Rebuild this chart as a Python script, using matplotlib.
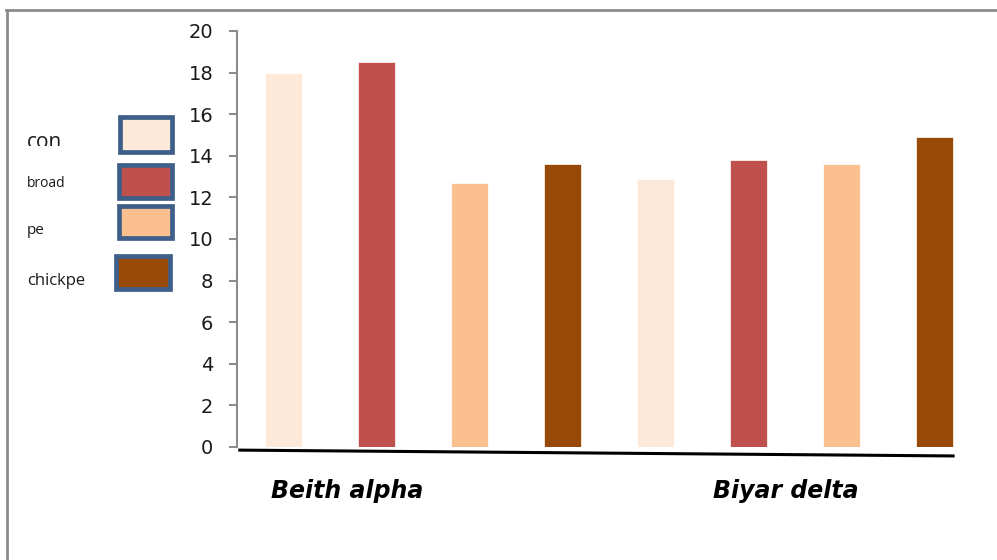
import matplotlib.pyplot as plt
from matplotlib.patches import Rectangle
from matplotlib.lines import Line2D

# data
values = [18.0, 18.5, 12.7, 13.6, 12.9, 13.8, 13.6, 14.9]
bar_colors = ['#FDE9DA', '#C0504D', '#FAC090', '#984807'] * 2
groups = ['Beith alpha', 'Biyar delta']
legend_labels = ['con', 'broad', 'pe', 'chickpe']
legend_colors = ['#FDE9DA', '#C0504D', '#FAC090', '#984807']
yticks = list(range(0, 21, 2))

fig = plt.figure(figsize=(9.97, 5.6), dpi=100)
ax = fig.add_axes([237 / 997, 113 / 560, 744 / 997, 416 / 560])

x = list(range(len(values)))
ax.bar(x, values, width=0.4, color=bar_colors, edgecolor='white', linewidth=0.5)

ax.set_xlim(-0.5, 7.5)
ax.set_ylim(0, 20)
ax.set_yticks(yticks)
ax.set_xticks([])
for s in ['top', 'right', 'bottom']:
    ax.spines[s].set_visible(False)
ax.spines['left'].set_color('#8c8c8c')
ax.spines['left'].set_linewidth(1.5)
ax.tick_params(axis='y', colors='#8c8c8c', length=6, width=1.5, pad=11,
               labelsize=14, labelcolor='#1a1a1a')

# slanted base line
ax.add_line(Line2D([-0.47, 7.2], [-0.15, -0.43], color='black', lw=2.2,
                   clip_on=False))

# group labels
for gx, g in zip([0.68, 5.4], groups):
    ax.text(gx, -2.1, g, ha='center', va='center', fontsize=17,
            fontweight='bold', fontstyle='italic', clip_on=False)

# legend drawn by hand (figure pixels)
boxes = [(120, 117, 52, 35), (119, 165, 53, 33), (119, 206, 53, 32), (116, 256, 54, 33)]
label_pos = [(27, 148), (27, 187), (27, 234), (27, 285)]
label_size = [15, 10, 11, 12]
for (bx, by, bw, bh), c in zip(boxes, legend_colors):
    fig.patches.append(Rectangle((bx / 997, 1 - (by + bh) / 560), bw / 997, bh / 560,
                                 transform=fig.transFigure, facecolor=c,
                                 edgecolor='#3E5F8A', linewidth=3.4))
for (lx, ly), lab, fs in zip(label_pos, legend_labels, label_size):
    t = fig.text(lx / 997, 1 - ly / 560, lab, fontsize=fs, color='#1a1a1a',
                 ha='left', va='baseline', family=['Open Sans', 'DejaVu Sans'])
    if lab == 'con':
        clip = Rectangle((0, 1 - 146 / 560), 0.2, 0.1, transform=fig.transFigure)
        t.set_clip_path(clip)

# outer frame
fig.add_artist(Line2D([6 / 997, 1], [1 - 10 / 560] * 2, color='#8c8c8c', lw=2,
                      transform=fig.transFigure))
fig.add_artist(Line2D([7 / 997] * 2, [0, 1 - 10 / 560], color='#8c8c8c', lw=2,
                      transform=fig.transFigure))

fig.savefig('out.png', dpi=100)
